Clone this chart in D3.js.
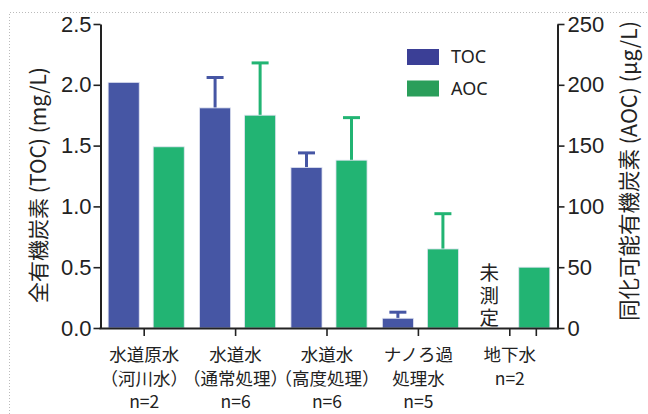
<!DOCTYPE html>
<html>
<head>
<meta charset="utf-8">
<script src="https://cdn.jsdelivr.net/npm/d3@7/dist/d3.min.js"></script>
<style>
  body { margin: 0; background: #fff; }
  svg text { fill: #222; }
</style>
</head>
<body>
<script>
// data
var categories = ["g1", "g2", "g3", "g4", "g5"];
var catLabels = [
  ["水道原水", "（河川水）", "n=2"],
  ["水道水", "（通常処理）", "n=6"],
  ["水道水", "（高度処理）", "n=6"],
  ["ナノろ過", "処理水", "n=5"],
  ["地下水", "n=2"]
];
var series = ["TOC", "AOC"];
var tocValues = [2.02, 1.81, 1.32, 0.08, null];   // mg/L
var tocErr    = [0, 0.25, 0.12, 0.05, 0];
var aocValues = [149, 175, 138, 65, 50];          // µg/L
var aocErr    = [0, 43, 35, 29, 0];
var leftTicks = [0, 0.5, 1.0, 1.5, 2.0, 2.5];
var rightTicks = [0, 50, 100, 150, 200, 250];

var width = 648, height = 414;
var plotLeft = 100.5, plotRight = 557.5, plotTop = 24, plotBottom = 328;
var colors = { TOC: "#4656a4", AOC: "#22b473" };
var legendColors = { TOC: "#3b3f96", AOC: "#2a9e5a" };

var svg = d3.select("body").append("svg")
    .attr("width", width)
    .attr("height", height);

// dotted frame (top + left)
svg.append("path")
    .attr("d", "M9.5,414 V12.5 H648")
    .attr("fill", "none")
    .attr("stroke", "#bbb")
    .attr("stroke-width", 1)
    .attr("stroke-dasharray", "1,2");

var x0 = d3.scaleBand().domain(categories).range([plotLeft, plotRight]);
var x1 = d3.scaleBand().domain(series).range([0, x0.bandwidth()])
    .paddingInner(0.31).paddingOuter(0.17);
var yL = d3.scaleLinear().domain([0, 2.5]).range([plotBottom, plotTop]);
var yR = d3.scaleLinear().domain([0, 250]).range([plotBottom, plotTop]);

var rows = categories.map(function(c, i) {
  return [
    { cat: c, key: "TOC", v: tocValues[i], e: tocErr[i], y: yL },
    { cat: c, key: "AOC", v: aocValues[i], e: aocErr[i], y: yR }
  ];
});
var bars = d3.merge(rows).filter(function(d) { return d.v != null; });
function cx(d) { return x0(d.cat) + x1(d.key) + x1.bandwidth() / 2; }

var g = svg.append("g");
g.selectAll("line.err")
    .data(bars.filter(function(d) { return d.e > 0; }))
  .enter().append("line")
    .attr("x1", cx)
    .attr("x2", cx)
    .attr("y1", function(d) { return d.y(d.v); })
    .attr("y2", function(d) { return d.y(d.v + d.e); })
    .attr("stroke", function(d) { return colors[d.key]; })
    .attr("stroke-width", 3);
g.selectAll("line.cap")
    .data(bars.filter(function(d) { return d.e > 0; }))
  .enter().append("line")
    .attr("x1", function(d) { return cx(d) - 8.5; })
    .attr("x2", function(d) { return cx(d) + 8.5; })
    .attr("y1", function(d) { return d.y(d.v + d.e); })
    .attr("y2", function(d) { return d.y(d.v + d.e); })
    .attr("stroke", function(d) { return colors[d.key]; })
    .attr("stroke-width", 3);

g.selectAll("rect.bar")
    .data(bars)
  .enter().append("rect")
    .attr("class", "bar")
    .attr("x", function(d) { return x0(d.cat) + x1(d.key); })
    .attr("width", x1.bandwidth())
    .attr("y", function(d) { return d.y(d.v); })
    .attr("height", function(d) { return plotBottom - d.y(d.v); })
    .attr("fill", function(d) { return colors[d.key]; })
    .attr("stroke", "#dfe3f0")
    .attr("stroke-width", 0.8);

// axes
var numFont = "'Liberation Sans', Arial, sans-serif";
var axL = svg.append("g")
    .attr("transform", "translate(" + plotLeft + ",0)")
    .call(d3.axisLeft(yL).tickValues(leftTicks).tickFormat(d3.format(".1f")).tickSize(7).tickSizeOuter(0).tickPadding(2));
var axR = svg.append("g")
    .attr("transform", "translate(" + plotRight + ",0)")
    .call(d3.axisRight(yR).tickValues(rightTicks).tickSize(7).tickSizeOuter(0).tickPadding(3));
[axL, axR].forEach(function(a) {
  a.select(".domain").attr("stroke", "#222").attr("stroke-width", 2);
  a.selectAll(".tick line").attr("stroke", "#222").attr("stroke-width", 1.6);
  a.selectAll(".tick text").attr("font-family", numFont).attr("font-size", 22).attr("fill", "#222");
});

// bottom axis
var tickXs = categories.map(function(c) { return x0(c) + x0.bandwidth() / 2 - 2; });
tickXs.push(x0("g5") + x1("AOC") + x1.bandwidth() / 2 + 2);
svg.append("line")
    .attr("x1", plotLeft - 1).attr("x2", plotRight + 1)
    .attr("y1", plotBottom + 0.5).attr("y2", plotBottom + 0.5)
    .attr("stroke", "#222").attr("stroke-width", 2);
svg.selectAll("line.xt")
    .data(tickXs)
  .enter().append("line")
    .attr("x1", function(d) { return d; }).attr("x2", function(d) { return d; })
    .attr("y1", plotBottom).attr("y2", plotBottom + 8)
    .attr("stroke", "#222").attr("stroke-width", 1.6);

var jpFont = "'Noto Sans CJK JP', 'Noto Sans', sans-serif";
var labelG = svg.selectAll("text.xl")
    .data(catLabels)
  .enter().append("text")
    .attr("class", "xl")
    .attr("text-anchor", "middle")
    .attr("font-family", jpFont)
    .attr("font-size", 17.5)
    .attr("x", function(d, i) { return tickXs[i]; })
    .attr("y", 361);
labelG.selectAll("tspan")
    .data(function(d, i) { return d.map(function(t) { return { t: t, x: tickXs[i] }; }); })
  .enter().append("tspan")
    .attr("x", function(d) { return d.x; })
    .attr("dy", function(d, j) { return j === 0 ? 0 : 23.5; })
    .text(function(d) { return d.t; });

// 未測定
svg.append("text")
    .attr("text-anchor", "middle")
    .attr("font-family", jpFont)
    .attr("font-size", 19.5)
    .selectAll("tspan")
    .data(["未", "測", "定"])
  .enter().append("tspan")
    .attr("x", x0("g5") + x1("TOC") + x1.bandwidth() / 2)
    .attr("y", function(d, i) { return 280 + i * 22.5; })
    .text(function(d) { return d; });

// axis titles
svg.append("text")
    .attr("transform", "translate(46,185) rotate(-90)")
    .attr("text-anchor", "middle")
    .attr("font-family", jpFont)
    .attr("font-size", 21)
    .text("全有機炭素 (TOC) (mg/L)");
svg.append("text")
    .attr("transform", "translate(637,171) rotate(-90)")
    .attr("text-anchor", "middle")
    .attr("font-family", jpFont)
    .attr("font-size", 21.5)
    .text("同化可能有機炭素 (AOC) (μg/L)");

// legend
var leg = svg.selectAll("g.leg")
    .data(series)
  .enter().append("g")
    .attr("transform", function(d, i) { return "translate(407," + (49 + i * 31.5) + ")"; });
leg.append("rect")
    .attr("width", 32).attr("height", 16)
    .attr("fill", function(d) { return legendColors[d]; });
leg.append("text")
    .attr("x", 44).attr("y", 8).attr("dy", "0.36em")
    .attr("font-family", "'Noto Sans', 'Open Sans', sans-serif")
    .attr("font-size", 18)
    .text(function(d) { return d; });
</script>
</body>
</html>
